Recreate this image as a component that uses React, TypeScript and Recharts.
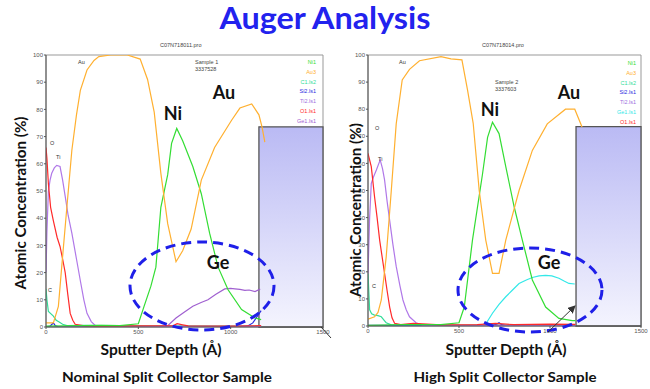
import React from 'react';
import { LineChart, Line, XAxis, YAxis, ReferenceArea } from 'recharts';

type P = [number, number];

// ---------- Sample 1 (Nominal split collector) ----------
const s1Au: P[] = [[0,1.5],[40,1.5],[67,7.6],[85,22],[113,44],[140,65],[165,78],[186,87],[222,94.5],[260,98],[286,99.4],[350,100],[440,100],[510,98.5],[550,91],[586,79],[622,56.5],[659,38],[704,24],[740,28],[786,36],[841,54],[913,66],[1005,76],[1050,80.5],[1114,82],[1153,78],[1170,73.5],[1185,68]];
const s1Ni: P[] = [[0,0.3],[200,0.5],[300,0.6],[400,0.5],[500,1.2],[531,7.6],[568,15],[595,22],[622,44],[659,56],[680,67.5],[708,73],[740,68.5],[795,59],[841,49],[886,34.5],[932,22],[986,13.7],[1059,6.4],[1132,3.3],[1165,2.7]];
const s1O: P[] = [[0,66],[5,62],[13,52.6],[25,44],[40,39],[60,33],[76,29.6],[90,25],[104,20],[118,12],[131,5],[145,2.5],[158,1],[200,0.5],[300,0.3],[500,0.4],[690,0.5],[710,1.2],[740,0.8],[770,0.4],[1000,0.3],[1165,0.5]];
const s1Ti: P[] = [[0,20],[5,35],[13,50],[22,54],[31,56.5],[45,58.5],[58,59.4],[76,59],[90,54],[104,48],[120,41],[140,34.5],[165,25],[186,17],[205,10],[222,5],[245,2],[268,0.5],[300,0.2],[1165,0.2]];
const s1C: P[] = [[0,14],[5,10],[13,5.7],[40,4],[55,2.5],[67,2],[90,1],[113,0.5],[200,0.6],[400,0.5],[600,0.4],[1165,0.3]];
const s1Si: P[] = [[0,0],[22,0.3],[35,1.2],[40,1.5],[50,0.5],[70,0],[1000,0],[1090,0.3],[1120,1.5],[1150,4.5],[1165,6]];
const s1Ge: P[] = [[0,0],[600,0],[659,0.5],[704,3.3],[750,5.5],[795,7.6],[840,9],[877,10],[920,12],[968,14],[1000,14.2],[1023,14],[1050,13.8],[1077,13.5],[1100,13.6],[1132,13],[1160,14]];

// ---------- Sample 2 (High split collector) ----------
const s2Au: P[] = [[0,2.5],[36,3.4],[55,5],[73,9.6],[100,25.5],[128,50],[155,74.6],[188,90.8],[228,94.7],[283,97.9],[401,99.4],[456,98.6],[516,98.2],[547,87],[578,74.8],[611,50],[647,31.7],[684,19.4],[720,19.4],[757,31.7],[830,50],[903,64.8],[985,74.6],[1085,80],[1136,80],[1176,73.4]];
const s2Ni: P[] = [[0,0.2],[200,0.5],[400,0.5],[500,1.2],[529,7],[574,31.7],[629,56],[657,69.6],[684,75.2],[720,71],[757,58.8],[803,44],[848,31.7],[903,17],[976,7],[1049,2.8],[1122,2],[1140,2]];
const s2O: P[] = [[0,63.7],[18,58.8],[36,47.7],[50,40],[64,31.7],[91,19.4],[105,13],[119,7],[132,3],[146,1],[180,0.5],[220,0.8],[250,1],[300,0.8],[400,0.4],[600,0.5],[700,1],[800,0.5],[1000,0.7],[1140,0.6]];
const s2Ti: P[] = [[0,19.4],[9,40],[18,52.6],[30,55],[46,57.6],[67,61.3],[80,58],[91,53.9],[105,46],[119,39],[137,30],[155,22],[175,15],[192,9.6],[210,6],[228,3.4],[264,1.2],[300,0.3],[1140,0.2]];
const s2C: P[] = [[0,19.4],[9,6],[20,4.5],[36,4],[55,3.8],[73,3.4],[90,2],[100,1.2],[128,0.4],[300,0.3],[1140,0.3]];
const s2Ge: P[] = [[0,0],[640,0],[684,4.7],[720,8],[757,10.8],[790,13],[830,15.7],[870,17],[903,17.9],[940,18.5],[976,18.7],[1010,18.5],[1049,17.6],[1080,16.5],[1104,15.7],[1136,15.5]];
const s2Si: P[] = [[0,0.2],[600,0.1],[690,0.3],[710,0.8],[720,1.2],[735,0.5],[760,0.1],[980,0.1],[994,0.4],[1010,0.1],[1140,0.1]];

const xTicks = [0, 500, 1000, 1500];
const yTicks = [0, 10, 20, 30, 40, 50, 60, 70, 80, 90, 100];

const legend1 = [['Ni1', '#33dd33'], ['Au3', '#ffb030'], ['C1.ls2', '#33dd99'], ['Si2.ls1', '#2a2ae0'], ['Ti2.ls1', '#a070e0'], ['O1.ls1', '#ff2a2a'], ['Ge1.ls1', '#a060d0']];
const legend2 = [['Ni1', '#33dd33'], ['Au3', '#ffb030'], ['C1.ls2', '#33dd99'], ['Si2.ls1', '#2a2ae0'], ['Ti2.ls1', '#a070e0'], ['Ge1.ls1', '#33e8e8'], ['O1.ls1', '#ff2a2a']];

const toPts = (a: P[]) => a.map(([x, y]) => ({ x, y }));

type S = { data: P[]; color: string; key: string };

function Chart(props: { series: S[]; width: number; margin: any; gid: string; boxX: number }) {
  const { series, width, margin, gid, boxX } = props;
  const tick = { fontSize: 6, fill: '#555', fontFamily: 'Liberation Sans' };
  return (
    <LineChart width={width} height={345} margin={margin}>
      <defs>
        <linearGradient id={gid} x1="0" y1="0" x2="0" y2="1">
          <stop offset="0%" stopColor="#babaf4" />
          <stop offset="100%" stopColor="#f4f4fe" />
        </linearGradient>
      </defs>
      <XAxis type="number" dataKey="x" domain={[0, 1500]} ticks={xTicks} height={10} tick={tick} tickSize={2} tickMargin={1} stroke="#555" allowDataOverflow />
      <YAxis type="number" domain={[0, 100]} ticks={yTicks} width={16} tick={tick} tickSize={2} tickMargin={1} stroke="#555" allowDataOverflow />
      <ReferenceArea x1={0} x2={1500} y1={0} y2={100} fill="none" stroke="#999" strokeWidth={1} />
      {series.map((s) => (
        <Line key={s.key} data={toPts(s.data)} dataKey="y" type="linear" stroke={s.color} strokeWidth={1.2} dot={false} isAnimationActive={false} />
      ))}
      <ReferenceArea x1={boxX} x2={1500} y1={0} y2={73.6} fill={`url(#${gid})`} fillOpacity={1} stroke="#555" strokeWidth={1.3} />
    </LineChart>
  );
}

const series1: S[] = [
  { key: 'C', data: s1C, color: '#33dd99' },
  { key: 'Si', data: s1Si, color: '#2a2ae0' },
  { key: 'Ge', data: s1Ge, color: '#a060d0' },
  { key: 'Ti', data: s1Ti, color: '#b078e8' },
  { key: 'O', data: s1O, color: '#ff2a2a' },
  { key: 'Ni', data: s1Ni, color: '#33dd33' },
  { key: 'Au', data: s1Au, color: '#ffb030' },
];
const series2: S[] = [
  { key: 'C', data: s2C, color: '#33dd99' },
  { key: 'Si', data: s2Si, color: '#2a2ae0' },
  { key: 'Ge', data: s2Ge, color: '#33e8e8' },
  { key: 'Ti', data: s2Ti, color: '#b078e8' },
  { key: 'O', data: s2O, color: '#ff2a2a' },
  { key: 'Ni', data: s2Ni, color: '#33dd33' },
  { key: 'Au', data: s2Au, color: '#ffb030' },
];

const big = { fontFamily: 'Lato', fontWeight: 700 as any };
const small = { fontFamily: 'Liberation Sans', fontSize: 5.5 };

export default function App() {
  return (
    <div style={{ position: 'absolute', left: 0, top: 0, width: 650, height: 389, background: '#fff', overflow: 'hidden' }}>
      <div style={{ position: 'absolute', left: 0, top: 0 }}>
        <Chart series={series1} width={335} margin={{ top: 55, right: 12, bottom: 8, left: 30 }} gid="box1" boxX={1153} />
      </div>
      <div style={{ position: 'absolute', left: 330, top: 0 }}>
        <Chart series={series2} width={320} margin={{ top: 55, right: 9, bottom: 9, left: 22 }} gid="box2" boxX={1143} />
      </div>
      <svg width={650} height={389} style={{ position: 'absolute', left: 0, top: 0, pointerEvents: 'none' }}>
        <defs>
          <marker id="arr" markerWidth="8" markerHeight="8" refX="7" refY="4" orient="auto" markerUnits="userSpaceOnUse">
            <path d="M0,0 L8,4 L0,8 Z" fill="#333" />
          </marker>
        </defs>
        <text x={325} y={29} textAnchor="middle" fill="#2222ee" fontSize={30} textLength={211} lengthAdjust="spacingAndGlyphs" style={big}>Auger Analysis</text>

        {/* file names and sample ids */}
        <text x={160} y={47} fill="#444" style={small}>C07N718011.pro</text>
        <text x={482} y={47} fill="#444" style={small}>C07N718014.pro</text>
        <text x={195} y={64} fill="#444" style={small}>Sample 1</text>
        <text x={195} y={71} fill="#444" style={small}>3337528</text>
        <text x={495} y={84} fill="#444" style={small}>Sample 2</text>
        <text x={495} y={91} fill="#444" style={small}>3337603</text>

        {/* legends */}
        {legend1.map(([t, c], i) => (
          <text key={'l1' + t} x={316} y={64 + i * 9.8} textAnchor="end" fill={c} style={small}>{t}</text>
        ))}
        {legend2.map(([t, c], i) => (
          <text key={'l2' + t} x={636} y={65 + i * 9.8} textAnchor="end" fill={c} style={small}>{t}</text>
        ))}

        {/* small element labels */}
        <text x={78} y={64} fill="#333" style={small}>Au</text>
        <text x={50} y={145} fill="#333" style={small}>O</text>
        <text x={56} y={159} fill="#333" style={small}>Ti</text>
        <text x={48} y={292} fill="#333" style={small}>C</text>
        <text x={399} y={64} fill="#333" style={small}>Au</text>
        <text x={375} y={130} fill="#333" style={small}>O</text>
        <text x={378} y={161} fill="#333" style={small}>Ti</text>
        <text x={372} y={288} fill="#333" style={small}>C</text>

        {/* big element labels */}
        <text x={173} y={120} textAnchor="middle" fontSize={18} fill="#111" style={big}>Ni</text>
        <text x={224} y={99} textAnchor="middle" fontSize={18} fill="#111" style={big}>Au</text>
        <text x={218} y={269} textAnchor="middle" fontSize={18} fill="#111" style={big}>Ge</text>
        <text x={490} y={116} textAnchor="middle" fontSize={18} fill="#111" style={big}>Ni</text>
        <text x={569} y={99} textAnchor="middle" fontSize={18} fill="#111" style={big}>Au</text>
        <text x={549} y={269} textAnchor="middle" fontSize={18} fill="#111" style={big}>Ge</text>

        {/* ellipses */}
        <ellipse cx={202} cy={286} rx={72} ry={44} fill="none" stroke="#1f1fe8" strokeWidth={3} strokeDasharray="10 6" />
        <ellipse cx={530} cy={290} rx={72} ry={42} fill="none" stroke="#1f1fe8" strokeWidth={3} strokeDasharray="10 6" />

        {/* arrows */}
        <line x1={548} y1={332} x2={575} y2={306} stroke="#333" strokeWidth={1} markerEnd="url(#arr)" />
        <line x1={321} y1={327} x2={331} y2={338} stroke="#333" strokeWidth={1} />

        {/* axis titles */}
        <text transform="translate(26,203) rotate(-90)" textAnchor="middle" fontSize={16} fill="#111" textLength={173} lengthAdjust="spacingAndGlyphs" style={big}>Atomic Concentration (%)</text>
        <text transform="translate(361,210) rotate(-90)" textAnchor="middle" fontSize={16} fill="#111" textLength={174} lengthAdjust="spacingAndGlyphs" style={big}>Atomic Concentration (%)</text>
        <text x={161} y={355} textAnchor="middle" fontSize={15} fill="#111" textLength={121} lengthAdjust="spacingAndGlyphs" style={big}>Sputter Depth (Å)</text>
        <text x={506} y={355} textAnchor="middle" fontSize={15} fill="#111" textLength={121} lengthAdjust="spacingAndGlyphs" style={big}>Sputter Depth (Å)</text>
        <text x={167} y={382} textAnchor="middle" fontSize={14} fill="#111" textLength={210} lengthAdjust="spacingAndGlyphs" style={big}>Nominal Split Collector Sample</text>
        <text x={505} y={382} textAnchor="middle" fontSize={14} fill="#111" textLength={183} lengthAdjust="spacingAndGlyphs" style={big}>High Split Collector Sample</text>
      </svg>
    </div>
  );
}
